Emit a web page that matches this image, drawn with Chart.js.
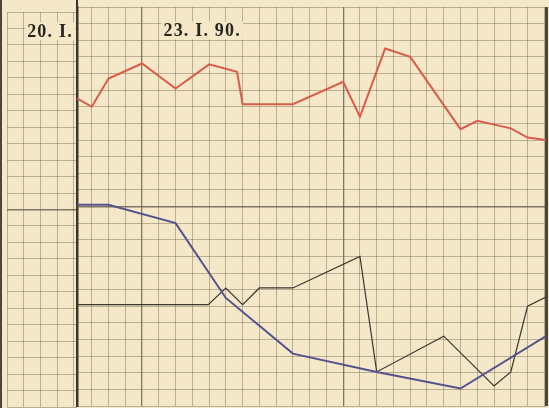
<!DOCTYPE html>
<html><head><meta charset="utf-8">
<script src="https://cdn.jsdelivr.net/npm/chart.js@4.4.1/dist/chart.umd.min.js"></script>
<style>
html,body{margin:0;padding:0;background:#f5e8c8;}
#wrap{position:relative;width:549px;height:408px;overflow:hidden;background:#f5e8c8;}
canvas{position:absolute;top:0;}
#edge{position:absolute;left:0;top:0;width:2px;height:408px;background:#4a463e;}
#topstub{position:absolute;left:76px;top:0;width:2px;height:9px;background:#3b362d;}
</style></head><body>
<div id="wrap">
<canvas id="left" width="80" height="408" style="left:0"></canvas>
<canvas id="main" width="549" height="408" style="left:0"></canvas>
<div id="edge"></div><div id="topstub"></div>
</div>
<script>
// ---- data (grid units: x = chart column, y = chart row from bottom) ----
const tempX  = [0.12, 1, 2, 4, 6, 8, 9.67, 10, 13, 16, 17, 18.5, 20, 23, 24, 26, 27, 28.1];
const tempY  = [18.5, 18.0, 19.7, 20.6, 19.1, 20.55, 20.1, 18.15, 18.15, 19.5, 17.4, 21.5, 21.0, 16.65, 17.15, 16.7, 16.15, 16.0];
const pulseX = [0.12, 2, 6, 9, 13, 18, 23, 28.1];
const pulseY = [12.1, 12.1, 11.0, 6.5, 3.15, 2.05, 1.05, 4.2];
const respX  = [0.12, 7.95, 9, 10, 11, 13, 17, 18, 22, 25, 26, 27, 28.1];
const respY  = [6.1, 6.1, 7.1, 6.1, 7.1, 7.1, 9.0, 2.05, 4.2, 1.2, 2.05, 6.0, 6.55];
const mainDateLabel = '23. I. 90.';
const leftDateLabel = '20. I.';
const mainCols = [1,2,3,4,5,6,7,8,9,10,11,12,13,14,15,16,17,18,19,20,21,22,23,24,25,26,27,28,28.1];
const leftCols = [0,1,2,3,4];
const rows = [0,1,2,3,4,5,6,7,8,9,10,11,12,13,14,15,16,17,18,19,20,21,22,23,24];

const BG = '#f5e8c8';
const GRID = 'rgba(115,104,82,0.45)';
const DARK = 'rgba(90,82,64,0.75)';
const zip = (xs, ys) => xs.map((x, i) => ({x: x, y: ys[i]}));

function labelPlugin(text, lx, ly) {
  return {
    id: 'lbl',
    afterDatasetsDraw(chart) {
      const c = chart.ctx;
      const px = chart.scales.x.getPixelForValue(lx);
      const py = chart.scales.y.getPixelForValue(ly);
      c.save();
      c.font = 'bold 18px "Liberation Serif", "DejaVu Serif", serif';
      c.letterSpacing = '1.2px';
      const w = c.measureText(text).width;
      c.fillStyle = BG;
      c.fillRect(px - w / 2 - 2, py - 9, w + 4, 18);
      c.fillStyle = '#29251f';
      c.textAlign = 'center';
      c.textBaseline = 'middle';
      c.fillText(text, px, py + 1);
      c.restore();
    }
  };
}

// left column (previous day)
new Chart(document.getElementById('left'), {
  type: 'line',
  data: {datasets: []},
  options: {
    responsive: false, animation: false,
    layout: {padding: {left: 7, right: 3, top: 12, bottom: 1}},
    plugins: {legend: {display: false}, tooltip: {enabled: false}},
    scales: {
      x: {type: 'linear', min: 0, max: 4.2,
          afterBuildTicks: s => { s.ticks = leftCols.map(v => ({value: v})); },
          ticks: {display: false},
          grid: {drawTicks: false, color: GRID, lineWidth: 1},
          border: {display: false}},
      y: {type: 'linear', min: 0, max: 24,
          afterBuildTicks: s => { s.ticks = rows.map(v => ({value: v})); },
          ticks: {display: false},
          grid: {drawTicks: false, color: c => c.tick.value === 12 ? DARK : GRID,
                 lineWidth: c => c.tick.value === 12 ? 1.5 : 1},
          border: {display: false}}
    }
  },
  plugins: [labelPlugin(leftDateLabel, 2.58, 22.84)]
});

// main chart
new Chart(document.getElementById('main'), {
  type: 'line',
  data: {datasets: [
    {label: 'Temperatur', data: zip(tempX, tempY), borderColor: '#d95b4b', borderWidth: 2, pointRadius: 0, tension: 0},
    {label: 'Puls', data: zip(pulseX, pulseY), borderColor: '#54528e', borderWidth: 2, pointRadius: 0, tension: 0},
    {label: 'Atmung', data: zip(respX, respY), borderColor: '#3a372f', borderWidth: 1.2, pointRadius: 0, tension: 0}
  ]},
  options: {
    responsive: false, animation: false,
    layout: {padding: {left: 77, right: 3, top: 7, bottom: 2}},
    plugins: {legend: {display: false}, tooltip: {enabled: false}},
    scales: {
      x: {type: 'linear', min: 0.12, max: 28.1,
          afterBuildTicks: s => { s.ticks = mainCols.map(v => ({value: v})); },
          ticks: {display: false},
          grid: {drawTicks: false,
                 color: c => c.tick.value > 28 ? '#4a463d' : (c.tick.value === 4 || c.tick.value === 16) ? DARK : GRID,
                 lineWidth: c => c.tick.value > 28 ? 3 : (c.tick.value === 4 || c.tick.value === 16) ? 1.3 : 1},
          border: {display: false}},
      y: {type: 'linear', min: 0, max: 24,
          afterBuildTicks: s => { s.ticks = rows.map(v => ({value: v})); },
          ticks: {display: false},
          grid: {drawTicks: false, color: c => c.tick.value === 12 ? DARK : GRID,
                 lineWidth: c => c.tick.value === 12 ? 1.5 : 1},
          border: {display: true, color: '#3b362d', width: 2.5}}
    }
  },
  plugins: [labelPlugin(mainDateLabel, 7.59, 22.59)]
});
</script>
</body></html>
